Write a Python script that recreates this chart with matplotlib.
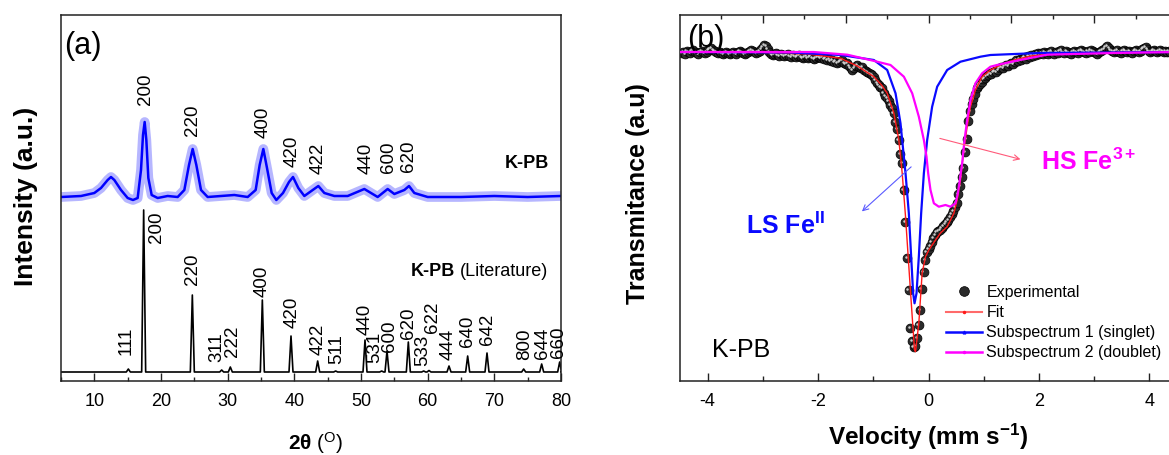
import numpy as np
import matplotlib
matplotlib.use('Agg')
import matplotlib.pyplot as plt
import matplotlib.transforms as mtransforms
from matplotlib.lines import Line2D

plt.rcParams['font.family'] = ['Liberation Sans', 'DejaVu Sans']
plt.rcParams['mathtext.fontset'] = 'custom'
plt.rcParams['mathtext.rm'] = 'Liberation Sans'
plt.rcParams['mathtext.bf'] = 'Liberation Sans:bold'
plt.rcParams['mathtext.it'] = 'Liberation Sans:italic'
plt.rcParams['axes.unicode_minus'] = False

# ------------------------- data: panel (a) XRD -------------------------
xrd_exp_2theta = [5, 8, 10, 11, 12, 12.5, 13, 14, 15, 15.8, 16.5, 17.0, 17.3, 17.55, 17.8,
                  18.1, 18.6, 19.5, 21, 22.5, 23.5, 24.2, 24.75, 25.3, 26, 27, 29, 31, 33,
                  34.2, 34.8, 35.35, 35.9, 36.6, 37.3, 38.3, 39.2, 39.8, 40.6, 41.5, 43.6,
                  44.5, 46, 48, 50.5, 51.5, 52.5, 54, 55, 56.5, 57.2, 58, 60, 65, 70, 75, 80]
xrd_exp_int = [184, 185, 188, 193, 201, 204, 201, 191, 183, 181, 183, 211, 246, 259, 241,
               203, 186, 183, 185, 184, 191, 216, 232, 216, 191, 184, 185, 186, 184,
               191, 216, 232, 213, 188, 181, 188, 199, 204, 193, 185, 195,
               188, 185, 185, 192, 188, 184, 192, 187, 191, 195, 188, 184, 184, 185, 184, 185]

lit_hkl = ['111', '200', '220', '311', '222', '400', '420', '422', '511', '440', '531',
           '600', '620', '533', '622', '444', '640', '642', '800', '644', '660']
lit_2theta = [15.1, 17.4, 24.7, 29.1, 30.4, 35.2, 39.5, 43.5, 46.2, 50.6, 53.1,
              53.9, 57.1, 59.4, 60.2, 63.2, 66.0, 68.9, 74.4, 77.1, 79.8]
lit_int = [3, 162, 77, 2, 5, 72, 36, 11, 1, 32, 1, 21, 30, 1, 1.5, 6, 16, 19, 3, 8, 10]

exp_hkl = ['200', '220', '400', '420', '422', '440', '600', '620']

# ------------------------- data: panel (b) Mossbauer -------------------------
vel_step = 0.03
ms_start_a = -4.47
ms_T_a = [328, 329, 327, 330, 329, 328, 330, 331, 329, 328, 327, 329, 330, 329, 328, 329,
          331, 332, 333, 331, 330, 329, 328, 329, 328, 327, 328, 329, 328, 327, 328, 329,
          328, 327, 329, 330, 329, 328, 327, 328, 329, 330, 331, 330, 329, 328, 329, 330,
          332, 334]
ms_start_b = -2.97
ms_T_b = [336, 335, 332, 329, 327, 326, 327, 328, 326, 325, 327, 326, 325, 326, 327, 325,
          324, 326, 325, 324, 325, 326, 324, 323, 324, 325, 323, 324, 325, 323, 322, 323, 324]
ms_start_c = -1.98
ms_T_c = [324, 323, 324, 322, 323, 321, 322, 320, 321, 319, 320, 318, 319, 320, 321, 318,
          317, 318, 315, 313, 311, 313, 315, 316, 314, 313, 314, 311, 310, 309, 308, 307, 306]
ms_start_d = -0.99
ms_T_d = [304, 301, 298, 296, 294, 293, 288, 285, 283, 280, 276, 273, 268, 259, 252, 241,
          227, 218, 191, 159, 123, 91, 53, 40, 34, 35, 43, 56, 71, 92, 109, 121, 129]
ms_start_e = 0.00
ms_T_e = [132, 135, 139, 143, 146, 149, 150, 151, 153, 155, 157, 159, 161, 164, 167, 170,
          174, 178, 187, 195, 204, 213, 229, 242, 260, 270, 277, 282, 287, 293, 295, 297, 299]
ms_start_f = 0.99
ms_T_f = [302, 303, 305, 306, 308, 307, 309, 310, 309, 311, 313, 314, 313, 315, 316, 315,
          317, 318, 317, 319, 321, 320, 322, 321, 323, 324, 322, 325, 324, 326, 325, 327,
          326, 328, 327]
ms_start_g = 2.04
ms_T_g = [328, 327, 329, 328, 327, 329, 330, 328, 327, 329, 328, 330, 331, 329, 328, 330,
          329, 328, 327, 329, 330, 329, 328, 330, 331, 330, 329, 328, 330, 329, 331, 330,
          329, 328, 327, 329, 330, 331, 332, 334, 335, 333, 331, 330, 329, 330, 331, 329,
          328, 330, 331, 330, 329, 330, 329, 328, 330, 331, 330, 329, 330, 332, 333, 334,
          332, 330, 329, 330, 331, 330, 329, 330, 331, 330, 329, 330, 329, 330, 329]

fit_v = [-4.5, -3.0, -2.2, -1.9, -1.593, -1.29, -0.99, -0.85, -0.748, -0.627, -0.537, -0.476,
         -0.416, -0.356, -0.295, -0.253, -0.235, -0.175, -0.115, -0.054, 0.006, 0.127, 0.217,
         0.338, 0.459, 0.519, 0.579, 0.640, 0.700, 0.760, 0.850, 0.971, 1.122, 1.3, 1.55,
         1.85, 2.2, 3.0, 4.5]
fit_T = [329, 328.5, 327, 325, 322.7, 315, 304.3, 296, 287.7, 267.7, 241, 207.7,
         164.3, 114.3, 64.3, 31, 29.3, 58, 108, 124.3, 131, 141, 148,
         154.3, 167.7, 181, 201, 231, 254.3, 274.3, 291, 304.3, 311, 316, 321,
         325, 327, 328.5, 329]

sub1_v = [-4.5, -2.5, -1.593, -0.990, -0.748, -0.597, -0.507, -0.416, -0.356, -0.314, -0.278,
          -0.253, -0.217, -0.175, -0.133, -0.084, -0.024, 0.066, 0.157, 0.338, 0.579, 0.941,
          1.122, 2.0, 4.5]
sub1_T = [329, 328.5, 326, 321, 311, 287.7, 257.7, 207.7, 167.7, 124.3, 87.7,
          77.7, 87.7, 124.3, 167.7, 207.7, 241, 274.3, 294.3, 311, 319.3, 324.3,
          326, 328, 329]

sub2_v = [-4.5, -2.08, -1.47, -0.98, -0.688, -0.446, -0.295, -0.175, -0.084, -0.036, -0.006,
          0.036, 0.097, 0.187, 0.308, 0.398, 0.489, 0.531, 0.567, 0.609, 0.652, 0.700, 0.760,
          0.850, 0.971, 1.122, 1.24, 1.54, 2.15, 3.35, 4.5]
sub2_T = [329, 329, 326.3, 320, 316, 304.3, 287.7, 264.3, 241, 224.3, 207.7,
          191, 177.7, 174.3, 176, 174.3, 177.7, 187.7, 201, 217.7, 241, 261, 281,
          297.7, 307.7, 314.3, 316, 319.7, 326.3, 328, 329]

legend_labels = ['Experimental', 'Fit', 'Subspectrum 1 (singlet)', 'Subspectrum 2 (doublet)']

# ------------------------- layout -------------------------
W, H = 1169, 455
fig = plt.figure(figsize=(W / 100, H / 100), dpi=100)

def fx(px):
    return px / W

def fy(py):
    return 1 - py / H

ax_a = fig.add_axes([fx(61), fy(381), fx(561) - fx(61), fy(15) - fy(381)])
ax_b = fig.add_axes([fx(680), fy(381), 497 / W, fy(15) - fy(381)])

spine_col = '#222222'
for ax in (ax_a, ax_b):
    for s in ax.spines.values():
        s.set_color(spine_col)
        s.set_linewidth(1.1)

# ---------- panel (a) ----------
lit_base = 9
lit_x = [5]
lit_y = [lit_base]
for p, h in zip(lit_2theta, lit_int):
    lit_x += [p - 0.3, p, p + 0.3]
    lit_y += [lit_base, lit_base + h, lit_base]
lit_x.append(80)
lit_y.append(lit_base)
ax_a.plot(lit_x, lit_y, color='black', lw=1.2)
# fuzzy band (noisy measurement) + core line
ax_a.plot(xrd_exp_2theta, xrd_exp_int, color='#3030ff', lw=7, alpha=0.35,
          solid_joinstyle='round', solid_capstyle='butt')
ax_a.plot(xrd_exp_2theta, xrd_exp_int, color='#0000ff', lw=1.8, solid_joinstyle='round')

ax_a.set_xlim(5, 80)
ax_a.set_ylim(0, 366)
ax_a.set_yticks([])
ax_a.set_xticks(range(10, 81, 10))
ax_a.set_xticks(range(5, 81, 5), minor=True)
ax_a.tick_params(axis='x', which='major', direction='in', length=6, width=1, labelsize=13,
                 pad=9, color=spine_col)
ax_a.tick_params(axis='x', which='minor', direction='in', length=3.2, width=1, color=spine_col)

lit_label_pos = {'111': (14.8, 26), '200': (19.4, 138), '220': (24.7, 96), '311': (28.4, 19),
                 '222': (30.8, 24), '400': (35.2, 84), '420': (39.6, 53), '422': (43.5, 26),
                 '511': (46.4, 17), '440': (50.6, 46), '531': (52.1, 18), '600': (54.3, 29),
                 '620': (57.1, 42), '533': (59.3, 15), '622': (60.7, 48), '444': (63.0, 21),
                 '640': (66.0, 34), '642': (69.0, 36), '800': (74.5, 21), '644': (77.3, 22),
                 '660': (79.7, 23)}
for lab in lit_hkl:
    x, y = lit_label_pos[lab]
    ax_a.text(x, y, lab, rotation=90, ha='center', va='bottom', fontsize=13.5)

exp_label_pos = {'200': (17.7, 276), '220': (24.8, 245), '400': (35.3, 243), '420': (39.7, 214),
                 '422': (43.6, 207), '440': (50.8, 207), '600': (54.1, 208), '620': (57.1, 209)}
for lab in exp_hkl:
    x, y = exp_label_pos[lab]
    ax_a.text(x, y, lab, rotation=90, ha='center', va='bottom', fontsize=13.5)

ax_a.text(78.2, 217.5, 'K-PB', ha='right', va='center', fontsize=13, fontweight='bold')
t_lit = ax_a.text(78.0, 109, '(Literature)', ha='right', va='center', fontsize=13)
ax_a.text(0.007, 0.955, '(a)', transform=ax_a.transAxes, ha='left', va='top', fontsize=22)

# ---------- panel (b) ----------
segs = [(ms_start_a, ms_T_a), (ms_start_b, ms_T_b), (ms_start_c, ms_T_c), (ms_start_d, ms_T_d),
        (ms_start_e, ms_T_e), (ms_start_f, ms_T_f), (ms_start_g, ms_T_g)]
vel = np.concatenate([s + vel_step * np.arange(len(v)) for s, v in segs])
trans = np.concatenate([np.asarray(v, float) for s, v in segs])

ax_b.plot(vel, trans, 'o', ms=6.4, mfc='#2b2b2b', mec='black', mew=0.5, zorder=2)
hl = ax_b.transData + mtransforms.ScaledTranslation(-1.0 / 72, 1.0 / 72, fig.dpi_scale_trans)
ax_b.plot(vel, trans, 'o', ms=1.8, color='#cfcfcf', mew=0, transform=hl, zorder=2.1)

ax_b.plot(fit_v, fit_T, color='#ff1a1a', lw=1.0, zorder=3)
ax_b.plot(sub1_v, sub1_T, color='#0a0aff', lw=1.6, zorder=4)
ax_b.plot(sub2_v, sub2_T, color='#ff00ff', lw=1.6, zorder=5)

ax_b.set_xlim(-4.5, 4.5)
ax_b.set_ylim(0, 366)
ax_b.set_yticks([])
ax_b.set_xticks([-4, -2, 0, 2, 4])
ax_b.set_xticks([-3, -1, 1, 3], minor=True)
ax_b.tick_params(axis='x', which='major', direction='in', length=6, width=1, labelsize=13,
                 pad=9, color=spine_col)
ax_b.tick_params(axis='x', which='minor', direction='in', length=3.5, width=1, color=spine_col)

ax_top = ax_b.twiny()
ax_top.set_xlim(-4.5, 4.5)
ax_top.set_xticks([-3, -1.5, 0, 1.5, 3])
ax_top.set_xticks([-3.75, -2.25, -0.75, 0.75, 2.25, 3.75], minor=True)
ax_top.tick_params(axis='x', which='major', direction='in', length=6, width=1, labeltop=False,
                   color=spine_col)
ax_top.tick_params(axis='x', which='minor', direction='in', length=3, width=1, color=spine_col)
for s in ax_top.spines.values():
    s.set_visible(False)

ax_b.annotate('', xy=(-1.243, 167.7), xytext=(-0.277, 216),
              arrowprops=dict(arrowstyle='->', color='#5a5aff', lw=0.8), zorder=6)
ax_b.annotate('', xy=(1.714, 221), xytext=(0.157, 243.3),
              arrowprops=dict(arrowstyle='->', color='#ff5a7a', lw=0.8), zorder=6)

ax_b.text(-3.31, 155, r'$\mathbf{LS\ Fe^{II}}$', color='#0a0aff', fontsize=18,
          ha='left', va='center')
ax_b.text(2.04, 219, r'$\mathbf{HS\ Fe^{3+}}$', color='#ff00ff', fontsize=18,
          ha='left', va='center')
ax_b.text(-3.915, 31, 'K-PB', fontsize=18, ha='left', va='center')
ax_b.text(0.015, 0.975, '(b)', transform=ax_b.transAxes, ha='left', va='top', fontsize=22)

handles = [
    Line2D([], [], ls='none', marker='o', ms=7, mfc='#2b2b2b', mec='black', mew=0.5),
    Line2D([], [], color='#ff6a6a', lw=1.5, marker='.', ms=3, mfc='#ff1a1a', mec='#ff1a1a'),
    Line2D([], [], color='#0a0aff', lw=1.8, marker='^', ms=2, mfc='#0a0aff', mec='#0a0aff'),
    Line2D([], [], color='#ff00ff', lw=1.8, marker='.', ms=3, mfc='#ff00ff', mec='#ff00ff'),
]
leg = ax_b.legend(handles, legend_labels, loc='upper left',
                  bbox_to_anchor=(fx(946.5), fy(285)), bbox_transform=fig.transFigure,
                  frameon=False, fontsize=11.5, handlelength=2.2, handletextpad=0.3,
                  labelspacing=0.32, borderpad=0, borderaxespad=0, numpoints=1)

# ---------- axis titles ----------
fig.text(fx(26), fy(196), 'Intensity (a.u.)', rotation=90, ha='center', va='center',
         fontsize=19, fontweight='bold')
fig.text(fx(316), fy(443), r'$\mathbf{2\theta}$ ($^{\mathrm{O}}$)', ha='center', va='center',
         fontsize=15)
fig.text(fx(638), fy(194), 'Transmitance (a.u)', rotation=90, ha='center', va='center',
         fontsize=18, fontweight='bold')
fig.text(fx(928), fy(437), r'Velocity (mm s$^{\mathbf{-1}}$)', ha='center', va='center',
         fontsize=17.5, fontweight='bold')

# composite "K-PB (Literature)"
fig.canvas.draw()
bb = t_lit.get_window_extent()
fig.text(bb.x0 / W - 4 / W, (bb.y0 + bb.y1) / 2 / H, 'K-PB', ha='right', va='center',
         fontsize=13, fontweight='bold')

fig.savefig('out.png', dpi=100)
